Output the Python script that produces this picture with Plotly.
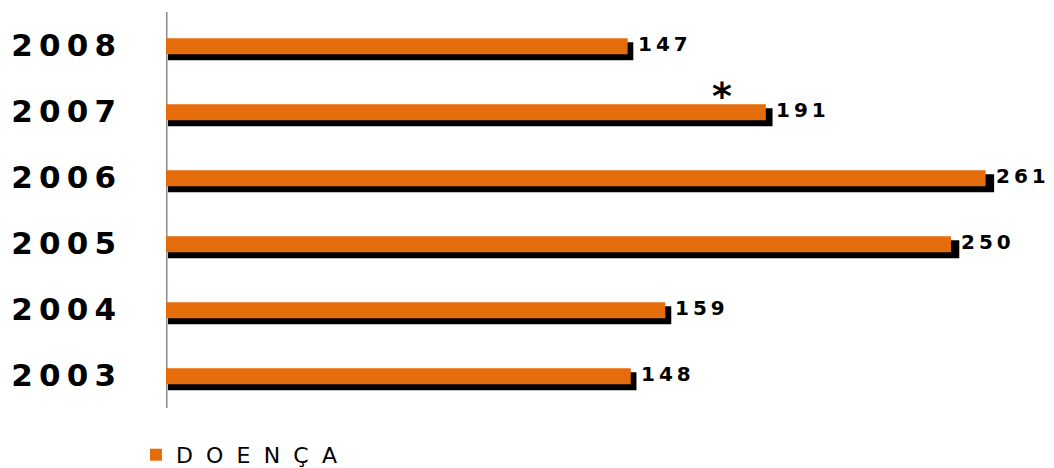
import plotly.graph_objects as go

# Yearly counts
years = ["2003", "2004", "2005", "2006", "2007", "2008"]
counts = [148, 159, 250, 261, 191, 147]
series_name = "DOENÇA"

# Marked year and where along its bar the asterisk sits
flag_year = "2007"
flag_value = 177

ORANGE = "#E46C0A"
THIN = "\u2009"
HAIR = "\u200a"

def spaced(text, sep):
    return sep.join(text)

# Category slots (numeric-looking names are addressed by index on the axis)
slots = list(range(len(years)))

fig = go.Figure()

# Drop shadow behind each bar (own axis, nudged slightly right)
fig.add_trace(go.Bar(
    y=years, x=counts, orientation="h",
    xaxis="x", yaxis="y",
    marker=dict(color="black", line=dict(width=0)),
    width=0.272, offset=-0.231,
    showlegend=False, hoverinfo="skip",
))

# Main bars
fig.add_trace(go.Bar(
    y=years, x=counts, orientation="h",
    xaxis="x2", yaxis="y",
    marker=dict(color=ORANGE, line=dict(width=0)),
    width=0.242, offset=-0.141,
    name=spaced(series_name, "\u2002" + HAIR),
))

# Value labels after each bar
for i, v in zip(slots, counts):
    fig.add_annotation(
        x=v, y=i, xref="x2", yref="y",
        text=spaced(str(v), THIN),
        showarrow=False, xanchor="left", yanchor="middle",
        xshift=8, yshift=1,
        font=dict(family="DejaVu Sans", size=20, color="black", weight="bold"),
    )

# Asterisk over the flagged year
fig.add_annotation(
    x=flag_value, y=years.index(flag_year), xref="x2", yref="y",
    text="*", showarrow=False, xanchor="center", yanchor="middle",
    yshift=15,
    font=dict(family="DejaVu Sans", size=38, color="black", weight="bold"),
)

# Vertical baseline at zero, behind the bars
fig.add_shape(
    type="line", xref="x2", yref="y domain",
    x0=0, x1=0, y0=0, y1=1,
    line=dict(color="#8A8A8A", width=3), layer="below",
)

fig.update_layout(
    width=1054, height=468,
    margin=dict(l=166, r=20, t=12, b=60),
    paper_bgcolor="white", plot_bgcolor="white",
    xaxis=dict(range=[-0.632, 273.6], visible=False, fixedrange=True),
    xaxis2=dict(range=[0, 276.4], overlaying="x", anchor="y",
                visible=False, fixedrange=True),
    yaxis=dict(
        type="category", categoryorder="array", categoryarray=years,
        range=[-0.5, len(years) - 0.5],
        tickmode="array", tickvals=slots,
        ticktext=[spaced(y, THIN) for y in years],
        showline=False,
        showgrid=False, zeroline=False, ticks="",
        ticklabelstandoff=49, ticklabelshift=0,
        tickfont=dict(family="DejaVu Sans", size=31, color="black", weight="bold"),
        fixedrange=True,
    ),
    showlegend=True,
    legend=dict(
        orientation="h", xref="container", yref="container",
        x=0.129, y=0.028, xanchor="left", yanchor="middle",
        font=dict(family="DejaVu Sans", size=22, color="black"),
        bgcolor="rgba(0,0,0,0)",
    ),
)

fig.write_html("out.html")
